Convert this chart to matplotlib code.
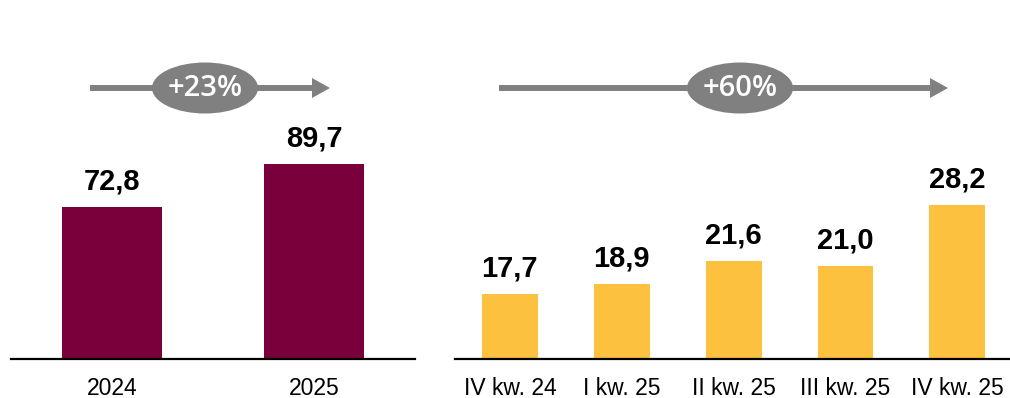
import matplotlib
matplotlib.use("Agg")
import matplotlib.pyplot as plt
from matplotlib.patches import Ellipse, FancyArrow

plt.rcParams['font.family'] = ['Liberation Sans', 'DejaVu Sans']

# Data
years = ["2024", "2025"]
year_values = [72.8, 89.7]
quarters = ["IV kw. 24", "I kw. 25", "II kw. 25", "III kw. 25", "IV kw. 25"]
quarter_values = [17.7, 18.9, 21.6, 21.0, 28.2]
growth_labels = ["+23%", "+60%"]

maroon = "#7A003C"
yellow = "#FCC13E"
grey = "#808080"

W, H = 1010, 398
fig = plt.figure(figsize=(W / 100, H / 100), dpi=100)

def px_axes(x0, x1, ytop, ybot):
    return fig.add_axes([x0 / W, (H - ybot) / H, (x1 - x0) / W, (ybot - ytop) / H])

ax1 = px_axes(11, 415, 60, 358.5)
ax2 = px_axes(455, 1010, 60, 358.5)

def style(ax):
    for s in ["top", "right", "left"]:
        ax.spines[s].set_visible(False)
    ax.spines["bottom"].set_linewidth(1.6)
    ax.spines["bottom"].set_color("black")
    ax.set_yticks([])
    ax.tick_params(axis="x", length=0, pad=13, labelsize=16.5)

# Left panel
x1 = list(range(len(years)))
ax1.bar(x1, year_values, width=0.495, color=maroon)
ax1.set_xlim(-0.5, 1.5)
ax1.set_ylim(12.4, 131.1)
ax1.set_xticks(x1)
ax1.set_xticklabels(years)
style(ax1)
for xi, v in zip(x1, year_values):
    ax1.annotate(f"{v:.1f}".replace(".", ","), (xi, v), xytext=(0, 8),
                 textcoords="offset points", ha="center", va="bottom",
                 fontsize=21, fontweight="bold")

# Right panel
x2 = list(range(len(quarters)))
ax2.bar(x2, quarter_values, width=0.5, color=yellow)
ax2.set_xlim(-0.49, 4.47)
ax2.set_ylim(10.09, 45.3)
ax2.set_xticks(x2)
ax2.set_xticklabels(quarters)
style(ax2)
for xi, v in zip(x2, quarter_values):
    ax2.annotate(f"{v:.1f}".replace(".", ","), (xi, v), xytext=(0, 8),
                 textcoords="offset points", ha="center", va="bottom",
                 fontsize=21, fontweight="bold")

# Growth arrows (figure pixel coordinates)
def growth_arrow(xs, xe, yc, ex, label):
    ax = fig.add_axes([0, 0, 1, 1], facecolor="none")
    ax.set_xlim(0, W)
    ax.set_ylim(H, 0)
    ax.axis("off")
    ax.add_patch(FancyArrow(xs, yc, xe - xs, 0, width=6, head_width=20,
                            head_length=18, length_includes_head=True,
                            color=grey, lw=0))
    ax.add_patch(Ellipse((ex, yc), 106, 51, color=grey, lw=0))
    ax.text(ex, yc + 1, label, ha="center", va="center", color="white",
            fontsize=21, fontweight="semibold",
            family=["Open Sans", "DejaVu Sans"])

growth_arrow(90, 330, 88, 205, growth_labels[0])
growth_arrow(499, 948, 88, 740, growth_labels[1])

fig.savefig("out.png", dpi=100)
